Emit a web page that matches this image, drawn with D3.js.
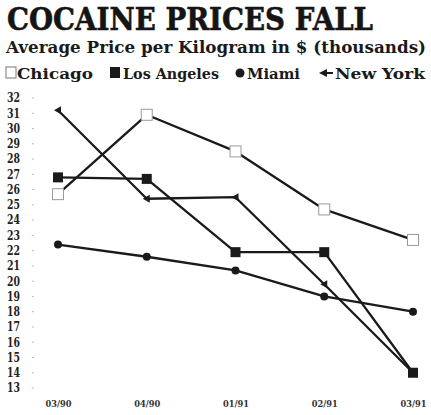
<!DOCTYPE html>
<html><head><meta charset="utf-8">
<script src="https://cdn.jsdelivr.net/npm/d3@7"></script>
<style>body{margin:0;background:#fff}svg{display:block}</style>
</head><body><svg id="c" width="431" height="415"></svg>
<script>
const dates = ["03/90","04/90","01/91","02/91","03/91"];
const chicago = [25.7, 30.9, 28.5, 24.7, 22.7];
const losAngeles = [26.8, 26.7, 21.9, 21.9, 14.0];
const miami = [22.4, 21.6, 20.7, 19.0, 18.0];
const newYork = [31.2, 25.4, 25.5, 19.8, 14.0];
const yTicks = d3.range(13, 33);
const titleText = "COCAINE PRICES FALL";
const subtitleText = "Average Price per Kilogram in $ (thousands)";

const svg = d3.select("#c");
const serif = "'DejaVu Serif', 'Liberation Serif', serif";
const x = d3.scalePoint().domain(dates).range([58, 413]);
const y = d3.scaleLinear().domain([13, 32]).range([388, 98]);

svg.append("text").attr("x", 7).attr("y", 30).attr("font-family", serif)
  .attr("font-weight", "bold").attr("font-size", 31).attr("fill", "#151515")
  .attr("stroke", "#151515").attr("stroke-width", 0.6)
  .attr("textLength", 366).attr("lengthAdjust", "spacingAndGlyphs").text(titleText);
svg.append("text").attr("x", 6).attr("y", 53).attr("font-family", serif)
  .attr("font-weight", "bold").attr("font-size", 17).attr("fill", "#1a1a1a")
  .attr("textLength", 420).attr("lengthAdjust", "spacingAndGlyphs").text(subtitleText);

// legend
const lg = svg.append("g").attr("font-family", serif).attr("font-weight", "bold")
  .attr("font-size", 15).attr("fill", "#1a1a1a");
lg.append("rect").attr("x", 6).attr("y", 67).attr("width", 10).attr("height", 11)
  .attr("fill", "#fff").attr("stroke", "#777").attr("stroke-width", 1);
lg.append("text").attr("x", 17).attr("y", 79).attr("textLength", 76).attr("lengthAdjust","spacingAndGlyphs").text("Chicago");
lg.append("rect").attr("x", 110).attr("y", 67).attr("width", 10).attr("height", 11).attr("fill", "#1a1a1a");
lg.append("text").attr("x", 123).attr("y", 79).attr("textLength", 96).attr("lengthAdjust","spacingAndGlyphs").text("Los Angeles");
lg.append("circle").attr("cx", 240).attr("cy", 73).attr("r", 4.5).attr("fill", "#1a1a1a");
lg.append("text").attr("x", 247).attr("y", 79).attr("textLength", 53).attr("lengthAdjust","spacingAndGlyphs").text("Miami");
lg.append("path").attr("d", "M319,73 L327,69 L327,77 Z").attr("fill", "#1a1a1a");
lg.append("path").attr("d", "M327,73 L333,73").attr("stroke", "#1a1a1a").attr("stroke-width", 2);
lg.append("text").attr("x", 335).attr("y", 79).attr("textLength", 90).attr("lengthAdjust","spacingAndGlyphs").text("New York");

// y axis
const ya = svg.append("g").attr("transform", "translate(20,0)")
  .call(d3.axisLeft(y).tickValues(yTicks).tickSize(0).tickPadding(0).tickFormat(d3.format("d")));
ya.select(".domain").remove();
ya.selectAll("text").attr("font-family", serif).attr("font-weight", "bold")
  .attr("font-size", 12).attr("fill", "#222").attr("textLength", 13).attr("lengthAdjust","spacingAndGlyphs");
svg.append("g").selectAll("line").data(yTicks).join("line")
  .attr("x1", 32).attr("x2", 34).attr("y1", d => y(d)).attr("y2", d => y(d))
  .attr("stroke", "#bbb").attr("stroke-width", 1);

// x axis
const xa = svg.append("g").attr("transform", "translate(0,400)")
  .call(d3.axisBottom(x).tickSize(0).tickPadding(0));
xa.select(".domain").remove();
xa.selectAll("text").attr("font-family", serif).attr("font-weight", "bold")
  .attr("font-size", 10).attr("fill", "#333").attr("textLength", 26).attr("lengthAdjust","spacingAndGlyphs");

const line = d3.line().x((d, i) => x(dates[i])).y(d => y(d));
const series = [
  {name: "Chicago", vals: chicago},
  {name: "Los Angeles", vals: losAngeles},
  {name: "Miami", vals: miami},
  {name: "New York", vals: newYork}
];
svg.append("g").selectAll("path").data(series).join("path")
  .attr("d", d => line(d.vals)).attr("fill", "none")
  .attr("stroke", "#1a1a1a").attr("stroke-width", 2.3).attr("stroke-linejoin", "round");

// markers
svg.append("g").selectAll("rect").data(chicago).join("rect")
  .attr("x", (d, i) => x(dates[i]) - 5.5).attr("y", d => y(d) - 5.5)
  .attr("width", 11).attr("height", 11).attr("fill", "#fff").attr("stroke", "#999").attr("stroke-width", 1);
svg.append("g").selectAll("rect").data(losAngeles).join("rect")
  .attr("x", (d, i) => x(dates[i]) - 5).attr("y", d => y(d) - 5)
  .attr("width", 10).attr("height", 10).attr("fill", "#1a1a1a");
svg.append("g").selectAll("circle").data(miami).join("circle")
  .attr("cx", (d, i) => x(dates[i])).attr("cy", d => y(d)).attr("r", 4).attr("fill", "#1a1a1a");
svg.append("g").selectAll("path").data(newYork).join("path")
  .attr("transform", (d, i) => `translate(${x(dates[i])},${y(d)})`)
  .attr("d", "M-4,0 L3,-4 L3,4 Z").attr("fill", "#1a1a1a");
</script></body></html>
